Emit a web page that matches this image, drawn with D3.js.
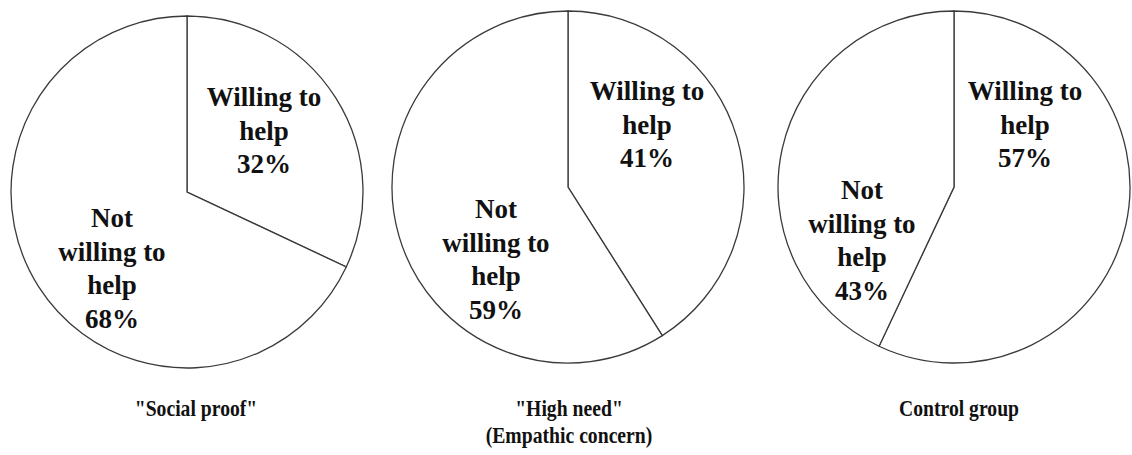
<!DOCTYPE html>
<html>
<head>
<meta charset="utf-8">
<script src="https://cdn.jsdelivr.net/npm/d3@7"></script>
<style>
html,body{margin:0;padding:0;background:#fff;}
svg{display:block;}
text{font-family:'Liberation Serif','Times New Roman',Tinos,serif;font-weight:bold;}
</style>
</head>
<body>
<svg id="chart" width="1132" height="455"></svg>
<script>
// ---- data ----
const groups = ['"Social proof"', '"High need"\n(Empathic concern)', 'Control group'];
const categories = ['Willing to help', 'Not willing to help'];
const willing = [32, 41, 57];
const notWilling = [68, 59, 43];
const sliceLabels = [['Willing to', 'help'], ['Not', 'willing to', 'help']];

// ---- layout ----
const layout = [
  {cx: 187, cy: 192, lab: [[264, 106], [112, 227]], tx: 196},
  {cx: 568, cy: 187, lab: [[647, 100], [496, 218]], tx: 569},
  {cx: 954, cy: 187, lab: [[1025, 100], [862, 199]], tx: 959}
];
const R = 176;
const lineH = 33.5;
const titleY = 416;

const svg = d3.select('#chart');
const pie = d3.pie().sort(null).value(d => d).startAngle(0).endAngle(2 * Math.PI);
const arc = d3.arc().innerRadius(0).outerRadius(R);
const fmt = d => d + '%';

groups.forEach((g, i) => {
  const L = layout[i];
  const vals = [willing[i], notWilling[i]];
  const gp = svg.append('g').attr('transform', `translate(${L.cx},${L.cy})`);
  gp.selectAll('path').data(pie(vals)).enter().append('path')
    .attr('d', arc)
    .attr('fill', '#fff')
    .attr('stroke', '#3a3a3a')
    .attr('stroke-width', 1.3)
    .attr('stroke-linejoin', 'miter');

  vals.forEach((v, k) => {
    const lines = sliceLabels[k].concat([fmt(v)]);
    const t = svg.append('text')
      .attr('text-anchor', 'middle')
      .attr('font-size', 27)
      .attr('fill', '#111');
    lines.forEach((ln, j) => {
      t.append('tspan').attr('x', L.lab[k][0]).attr('y', L.lab[k][1] + j * lineH).text(ln);
    });
  });

  g.split('\n').forEach((ln, j) => {
    svg.append('text')
      .attr('text-anchor', 'middle')
      .attr('font-size', 24)
      .attr('fill', '#111')
      .attr('transform', `translate(${L.tx},${titleY + j * 27}) scale(0.82,1)`)
      .text(ln);
  });
});
</script>
</body>
</html>
